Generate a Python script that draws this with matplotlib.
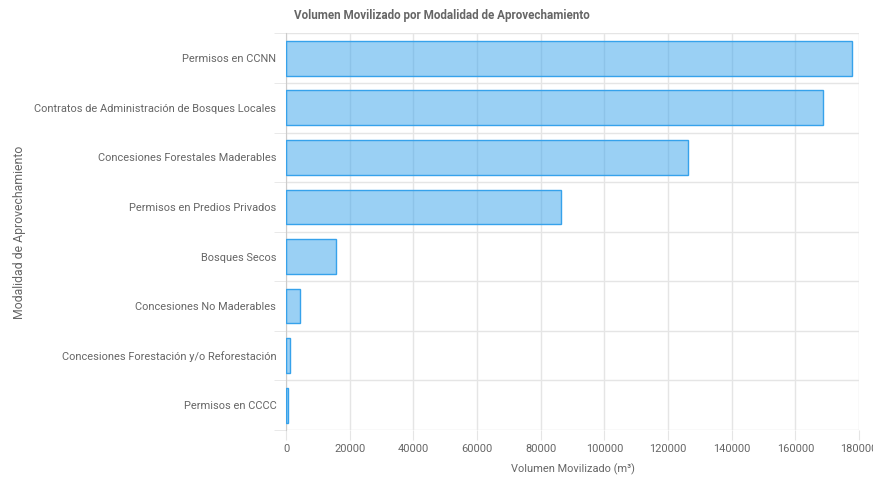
import matplotlib
matplotlib.use("Agg")
import matplotlib.pyplot as plt
from matplotlib.ticker import FixedLocator

categories = [
    "Permisos en CCNN",
    "Contratos de Administración de Bosques Locales",
    "Concesiones Forestales Maderables",
    "Permisos en Predios Privados",
    "Bosques Secos",
    "Concesiones No Maderables",
    "Concesiones Forestación y/o Reforestación",
    "Permisos en CCCC",
]
values = [177900, 168700, 126300, 86400, 15700, 4400, 1200, 700]
x_ticks = [0, 20000, 40000, 60000, 80000, 100000, 120000, 140000, 160000, 180000]

plt.rcParams['font.family'] = ['Roboto', 'DejaVu Sans']
text_color = '#666666'
grid_color = '#e5e5e5'
fs = 7.9

fig = plt.figure(figsize=(8.73, 4.78), dpi=100)
ax = fig.add_axes([286/873, 1 - 430/478, (859 - 286)/873, (430 - 33.5)/478])

y = list(range(len(categories)))
ax.barh(y, values, height=0.7, color=(54/255, 162/255, 235/255, 0.5),
        edgecolor='#36a2eb', linewidth=1.0, zorder=3)

ax.set_xlim(0, 180000)
ax.set_ylim(len(categories) - 0.5, -0.5)
ax.set_xticks(x_ticks)
ax.set_xticklabels([str(t) for t in x_ticks])
ax.set_yticks(y)
ax.set_yticklabels(categories)

for t in x_ticks:
    ax.axvline(t, color=grid_color, lw=1, zorder=0)
for b in [i - 0.5 for i in range(len(categories) + 1)]:
    ax.axhline(b, color=grid_color, lw=1, zorder=0)

ax.tick_params(axis='x', length=7, color=grid_color, labelsize=fs, labelcolor=text_color, pad=3)
ax.tick_params(axis='y', length=0, labelsize=fs, labelcolor=text_color, pad=7)
ax.yaxis.set_minor_locator(FixedLocator([i - 0.5 for i in range(len(categories) + 1)]))
ax.tick_params(axis='y', which='minor', length=9, color=grid_color)

for s in ['top', 'right', 'bottom']:
    ax.spines[s].set_visible(False)
ax.spines['left'].set_color('#cccccc')

ax.set_xlabel("Volumen Movilizado (m³)", fontsize=fs, color=text_color, labelpad=7)
fig.text(20/873, 1 - 232/478, "Modalidad de Aprovechamiento", rotation=90,
         ha='center', va='center', fontsize=8.8, color=text_color)
fig.text(442/873, 1 - 15/478, "Volumen Movilizado por Modalidad de Aprovechamiento",
         ha='center', va='center', fontsize=8.4, fontweight='bold', color=text_color)

fig.savefig("out.png", dpi=100)
